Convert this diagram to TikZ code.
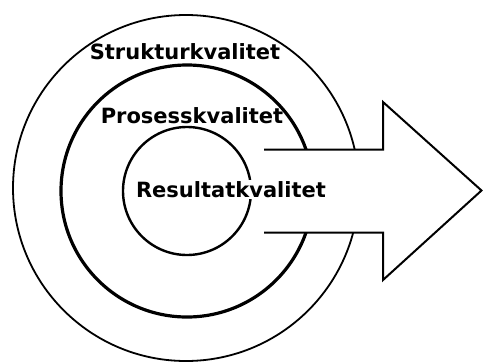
\documentclass[tikz,border=0pt]{standalone}
\usepackage{fontspec}
\setmainfont{DejaVu Sans}
\usetikzlibrary{positioning}

\tikzset{
  ring/.style={draw, circle, inner sep=0pt},
  qual/.style={anchor=base, inner sep=1.5pt, font=\fontsize{21}{25}\selectfont\bfseries}
}

\begin{document}
\begin{tikzpicture}[x=1pt, y=-1pt]
\useasboundingbox (0,0) rectangle (484,362);
\node[ring, line width=1.8pt, minimum size=346pt] at (186,188) (outer) {};
\node[ring, line width=3.2pt, minimum size=252pt] at (187,191) (middle) {};
\node[ring, line width=2.4pt, minimum size=128pt] at (187,191) (inner) {};
%arrow out of the rings
\filldraw[fill=white, line width=2pt] (264,149.5) -- (383,149.5) -- (383,102)
  -- (481.5,190.5) -- (383,280) -- (383,232.5) -- (264,232.5);
\node[qual] at (185,59) (struktur) {Strukturkvalitet};
\node[qual] at (192,123) (prosess) {Prosesskvalitet};
\node[qual, fill=white] at (231,197) (resultat) {Resultatkvalitet};
\end{tikzpicture}
\end{document}
